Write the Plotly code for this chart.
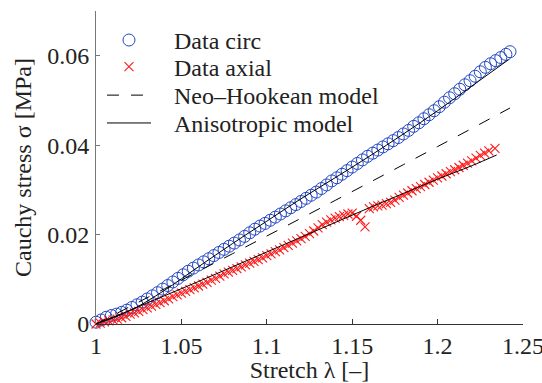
import plotly.graph_objects as go

# Circumferential test: stretch and Cauchy stress [MPa]
circ_stretch = [
    1.000, 1.003, 1.006, 1.009, 1.012, 1.015, 1.018, 1.021, 1.024, 1.027,
    1.030, 1.033, 1.036, 1.039, 1.042, 1.045, 1.048, 1.051, 1.054, 1.057,
    1.060, 1.063, 1.066, 1.069, 1.072, 1.075, 1.078, 1.081, 1.084, 1.087,
    1.090, 1.093, 1.096, 1.099, 1.102, 1.105, 1.108, 1.111, 1.114, 1.117,
    1.120, 1.123, 1.126, 1.129, 1.132, 1.135, 1.138, 1.141, 1.144, 1.147,
    1.150, 1.153, 1.156, 1.159, 1.162, 1.165, 1.168, 1.171, 1.174, 1.177,
    1.180, 1.183, 1.186, 1.189, 1.192, 1.195, 1.198, 1.201, 1.204, 1.207,
    1.210, 1.213, 1.216, 1.219, 1.222, 1.225, 1.228, 1.231, 1.234, 1.237,
    1.240, 1.2424,
]
circ_stress = [
    0.0004, 0.0009, 0.0015, 0.0019, 0.0022, 0.0026, 0.0031, 0.0037, 0.0043, 0.0049,
    0.0056, 0.0063, 0.0070, 0.0078, 0.0086, 0.0094, 0.0102, 0.0110, 0.0118, 0.0125,
    0.0132, 0.0139, 0.0146, 0.0153, 0.0160, 0.0167, 0.0174, 0.0181, 0.0188, 0.0196,
    0.0204, 0.0212, 0.0219, 0.0225, 0.0232, 0.0239, 0.0246, 0.0253, 0.0260, 0.0267,
    0.0274, 0.0281, 0.0288, 0.0295, 0.0303, 0.0311, 0.0320, 0.0327, 0.0335, 0.0343,
    0.0351, 0.0359, 0.0367, 0.0375, 0.0382, 0.0389, 0.0396, 0.0403, 0.0410, 0.0417,
    0.0425, 0.0433, 0.0442, 0.0450, 0.0459, 0.0468, 0.0477, 0.0486, 0.0496, 0.0506,
    0.0515, 0.0525, 0.0535, 0.0544, 0.0554, 0.0564, 0.0574, 0.0582, 0.0589, 0.0596,
    0.0603, 0.0609,
]

# Axial test: stretch and Cauchy stress [MPa]
axial_stretch = [
    1.0000, 1.0025, 1.0050, 1.0075, 1.0100, 1.0125, 1.0150, 1.0175, 1.0200, 1.0225,
    1.0250, 1.0275, 1.0300, 1.0325, 1.0350, 1.0375, 1.0400, 1.0425, 1.0450, 1.0475,
    1.0500, 1.0525, 1.0550, 1.0575, 1.0600, 1.0625, 1.0650, 1.0675, 1.0700, 1.0725,
    1.0750, 1.0775, 1.0800, 1.0825, 1.0850, 1.0875, 1.0900, 1.0925, 1.0950, 1.0975,
    1.1000, 1.1025, 1.1050, 1.1075, 1.1100, 1.1125, 1.1150, 1.1175, 1.1200, 1.1225,
    1.1250, 1.1275, 1.1300, 1.1325, 1.1350, 1.1375, 1.1400, 1.1425, 1.1450, 1.1475,
    1.1500, 1.1525, 1.1550, 1.1575, 1.1600, 1.1625, 1.1650, 1.1675, 1.1700, 1.1725,
    1.1750, 1.1775, 1.1800, 1.1825, 1.1850, 1.1875, 1.1900, 1.1925, 1.1950, 1.1975,
    1.2000, 1.2025, 1.2050, 1.2075, 1.2100, 1.2125, 1.2150, 1.2175, 1.2200, 1.2225,
    1.2250, 1.2275, 1.2300, 1.2336,
]
axial_stress = [
    0.0000, 0.0002, 0.0005, 0.0007, 0.0009, 0.0011, 0.0014, 0.0017, 0.0022, 0.0025,
    0.0028, 0.0032, 0.0036, 0.0040, 0.0044, 0.0048, 0.0052, 0.0056, 0.0061, 0.0065,
    0.0069, 0.0073, 0.0077, 0.0081, 0.0085, 0.0089, 0.0093, 0.0098, 0.0102, 0.0107,
    0.0112, 0.0116, 0.0120, 0.0124, 0.0128, 0.0132, 0.0136, 0.0140, 0.0144, 0.0148,
    0.0153, 0.0157, 0.0162, 0.0166, 0.0171, 0.0176, 0.0181, 0.0186, 0.0191, 0.0196,
    0.0202, 0.0208, 0.0215, 0.0222, 0.0228, 0.0233, 0.0237, 0.0240, 0.0243, 0.0246,
    0.0248, 0.0241, 0.0232, 0.0217, 0.0258, 0.0262, 0.0264, 0.0266, 0.0269, 0.0272,
    0.0277, 0.0283, 0.0288, 0.0293, 0.0298, 0.0303, 0.0307, 0.0312, 0.0317, 0.0322,
    0.0327, 0.0331, 0.0336, 0.0341, 0.0345, 0.0350, 0.0355, 0.0360, 0.0365, 0.0371,
    0.0377, 0.0382, 0.0387, 0.0393,
]

# Neo-Hookean fit
neo_stretch = [1.00, 1.02, 1.04, 1.06, 1.08, 1.10, 1.12, 1.14, 1.16, 1.18, 1.20, 1.22, 1.2424]
neo_stress = [0.0, 0.00392, 0.00785, 0.01179, 0.01573, 0.01968, 0.02364, 0.02763,
              0.03162, 0.03564, 0.03968, 0.04373, 0.04831]

# Anisotropic fit, circumferential and axial directions
aniso_circ_stretch = [1.00, 1.02, 1.04, 1.06, 1.08, 1.10, 1.12, 1.14, 1.16, 1.18, 1.20, 1.22, 1.2415]
aniso_circ_stress = [0.0, 0.0030, 0.0075, 0.0128, 0.0180, 0.0230, 0.0280, 0.0327,
                     0.0375, 0.0425, 0.0477, 0.0532, 0.0591]
aniso_axial_stretch = [1.00, 1.02, 1.04, 1.06, 1.08, 1.10, 1.12, 1.14, 1.16, 1.18, 1.20, 1.22, 1.2346]
aniso_axial_stress = [0.0, 0.0031, 0.0063, 0.0095, 0.0128, 0.0161, 0.0194, 0.0227,
                      0.0260, 0.0292, 0.0324, 0.0354, 0.0378]

x_ticks = [1.0, 1.05, 1.1, 1.15, 1.2, 1.25]
x_tick_text = ["1", "1.05", "1.1", "1.15", "1.2", "1.25"]
y_ticks = [0.0, 0.02, 0.04, 0.06]
y_tick_text = ["0", "0.02", "0.04", "0.06"]

FONT = "Liberation Serif"
FS = 24
TEXT = "#222222"
BLUE = "#2346c4"
RED = "#ff1a1a"
PAD = "\u00a0\u00a0\u00a0"  # gap between legend symbol and label

fig = go.Figure()
fig.add_trace(go.Scatter(
    x=circ_stretch, y=circ_stress, mode="markers", name=PAD + "Data circ",
    marker=dict(symbol="circle-open", size=12, color=BLUE, line=dict(width=1, color=BLUE)),
    cliponaxis=False, legend="legend",
))
fig.add_trace(go.Scatter(
    x=axial_stretch, y=axial_stress, mode="markers", name=PAD + "Data axial",
    marker=dict(symbol="x-thin-open", size=9, color=RED, line=dict(width=1.1, color=RED)),
    cliponaxis=False, legend="legend2",
))
fig.add_trace(go.Scatter(
    x=neo_stretch, y=neo_stress, mode="lines", name=PAD + "Neo–Hookean model",
    line=dict(color="black", width=1, dash="12px,12px"), line_shape="spline",
    legend="legend3",
))
fig.add_trace(go.Scatter(
    x=aniso_circ_stretch, y=aniso_circ_stress, mode="lines", name=PAD + "Anisotropic model",
    line=dict(color="black", width=1), line_shape="spline", legend="legend4",
))
fig.add_trace(go.Scatter(
    x=aniso_axial_stretch, y=aniso_axial_stress, mode="lines", name="Anisotropic model",
    line=dict(color="black", width=1), line_shape="spline", showlegend=False,
))


def legend_box(y):
    return dict(
        x=0.014, y=y, xanchor="left", yanchor="middle",
        bgcolor="rgba(0,0,0,0)", borderwidth=0, itemwidth=44,
        font=dict(family=FONT, size=FS, color=TEXT),
    )


fig.update_layout(
    width=542, height=383,
    margin=dict(l=96, r=19, t=11, b=59, autoexpand=False),
    paper_bgcolor="white", plot_bgcolor="white",
    font=dict(family=FONT, size=FS, color=TEXT),
    showlegend=True,
    legend=legend_box(0.906),
    legend2=legend_box(0.821),
    legend3=legend_box(0.730),
    legend4=legend_box(0.641),
    xaxis=dict(
        range=[1.0, 1.25], tickvals=x_ticks, ticktext=x_tick_text,
        ticks="inside", ticklen=5, tickcolor="#333333", tickwidth=1,
        showline=True, linecolor="#333333", linewidth=1,
        showgrid=False, zeroline=False, mirror=False, automargin=False,
        ticklabelstandoff=0, ticklabeloverflow="allow",
        title=dict(text="Stretch λ [–]", standoff=12, font=dict(family=FONT, size=FS)),
    ),
    yaxis=dict(
        range=[0.0, 0.07], tickvals=y_ticks, ticktext=y_tick_text,
        ticks="inside", ticklen=4, tickcolor="#777777", tickwidth=1,
        showline=True, linecolor="#777777", linewidth=1,
        showgrid=False, zeroline=False, mirror=False, automargin=False,
        ticklabelstandoff=1, ticklabeloverflow="allow",
        title=dict(text="Cauchy stress σ [MPa]", standoff=8, font=dict(family=FONT, size=FS)),
    ),
)

fig.write_html("out.html")
